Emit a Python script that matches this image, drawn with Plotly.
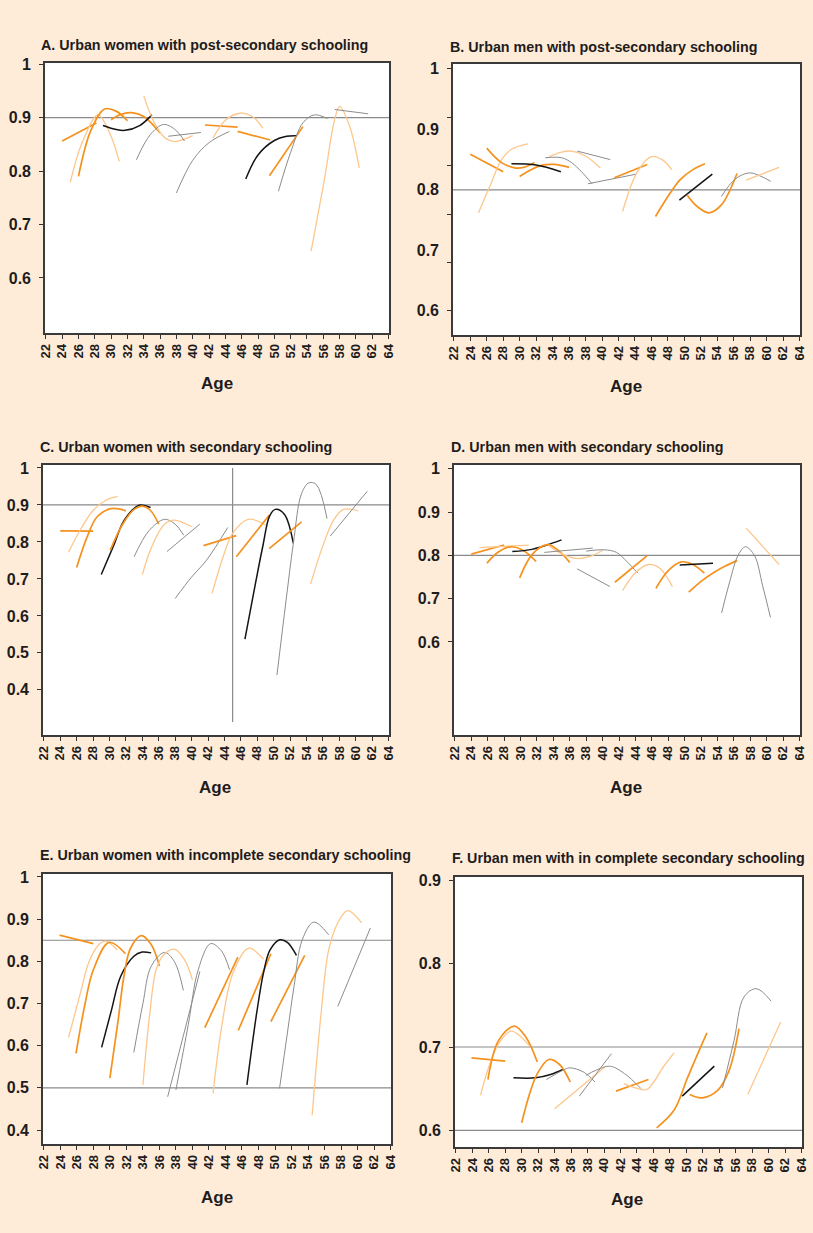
import plotly.graph_objects as go

# ---- cohort segments: colour key, ages, estimated proportions ----
# O = orange, L = light orange, K = black, G = grey
A_kinds = ["O", "L", "O", "O", "K", "L", "G", "G", "G", "O", "L", "O", "K", "O", "G", "L", "G"]
A_ages = [
    [24, 28.2], [25, 26.5, 28.4, 29.8, 31], [26, 27.5, 29.2, 30.6, 32],
    [30, 31.2, 32.5, 34, 36], [29, 30.5, 31.7, 33.5, 35], [34, 35.3, 36.6, 37.8, 40],
    [33.1, 34.8, 36.4, 37.8, 39], [37, 41], [38, 40, 42, 44.5], [41.5, 45.5],
    [42.5, 44, 45.8, 47.3, 48.6], [45.5, 49.5], [46.5, 48, 50, 51.5, 52.7], [49.4, 53.5],
    [50.5, 52, 53.5, 54.9, 56.5], [54.5, 56.2, 57.3, 58, 59.2, 60.4], [57.4, 61.5],
]
A_vals = [
    [0.856, 0.890], [0.779, 0.855, 0.905, 0.872, 0.818], [0.79, 0.875, 0.916, 0.912, 0.894],
    [0.896, 0.906, 0.909, 0.902, 0.871], [0.885, 0.878, 0.876, 0.885, 0.905], [0.94, 0.89, 0.862, 0.855, 0.866],
    [0.821, 0.868, 0.887, 0.878, 0.856], [0.865, 0.872], [0.759, 0.82, 0.853, 0.874], [0.886, 0.882],
    [0.862, 0.895, 0.908, 0.902, 0.88], [0.874, 0.858], [0.785, 0.83, 0.857, 0.865, 0.866], [0.791, 0.883],
    [0.762, 0.835, 0.89, 0.905, 0.898], [0.65, 0.79, 0.89, 0.921, 0.885, 0.806], [0.915, 0.907],
]

B_kinds = ["O", "L", "O", "O", "K", "L", "G", "G", "G", "O", "L", "O", "K", "O", "G", "L"]
B_ages = [
    [24, 28], [25, 26.5, 27.8, 29, 31], [26, 27.8, 29.5, 30.5, 31.8], [30, 31.2, 32.5, 34.2, 36],
    [29, 32, 35], [33.6, 35, 36.3, 38, 39.8], [33.1, 35.1, 36.3, 37.5, 38.8], [37, 41],
    [38.3, 44.2], [41.5, 45.5], [42.5, 44.3, 46, 47.3, 48.5], [46.5, 48.3, 49.5, 51, 52.5],
    [49.4, 53.4], [50.3, 51.6, 53, 54.5, 56.4], [54.5, 56.2, 57.9, 59.2, 60.5], [57.5, 61.5],
]
B_vals = [
    [0.859, 0.830], [0.762, 0.81, 0.85, 0.867, 0.876], [0.869, 0.845, 0.836, 0.837, 0.845],
    [0.822, 0.832, 0.84, 0.842, 0.837], [0.843, 0.841, 0.83], [0.855, 0.862, 0.864, 0.856, 0.836],
    [0.853, 0.853, 0.845, 0.83, 0.81], [0.864, 0.85], [0.81, 0.826], [0.82, 0.842],
    [0.764, 0.83, 0.855, 0.85, 0.833], [0.756, 0.795, 0.817, 0.833, 0.843], [0.783, 0.826],
    [0.792, 0.772, 0.762, 0.775, 0.827], [0.789, 0.818, 0.828, 0.823, 0.814], [0.816, 0.837],
]

C_kinds = ["O", "L", "O", "K", "O", "G", "L", "G", "G", "O", "L", "O", "K", "O", "G", "L", "G"]
C_ages = [
    [24, 28], [25, 26.5, 28, 29.5, 31], [26, 27.3, 28.5, 30.2, 32], [29, 30.5, 31.8, 33.6, 35],
    [30.1, 31.6, 33, 34, 35, 36], [33, 34.8, 36.7, 38, 39.05], [34, 35.2, 36.7, 37.9, 40],
    [37, 41], [38, 40, 41.8, 44.4], [41.45, 45.45], [42.5, 44, 45, 46.9, 49.1], [45.45, 49.45],
    [46.5, 47.8, 48.7, 49.5, 50.2, 51.3, 52.4], [49.45, 53.4],
    [50.4, 51.5, 52.4, 53.4, 54.3, 55.2, 56.5], [54.5, 56, 57.3, 58.5, 60.3], [56.9, 61.4],
]
C_vals = [
    [0.830, 0.829], [0.772, 0.835, 0.885, 0.912, 0.923], [0.731, 0.815, 0.868, 0.89, 0.884],
    [0.712, 0.79, 0.859, 0.899, 0.893], [0.778, 0.848, 0.888, 0.897, 0.885, 0.848],
    [0.76, 0.83, 0.861, 0.848, 0.818], [0.712, 0.79, 0.848, 0.859, 0.841], [0.774, 0.848],
    [0.647, 0.705, 0.75, 0.839], [0.79, 0.817], [0.661, 0.77, 0.823, 0.861, 0.845], [0.76, 0.872],
    [0.537, 0.69, 0.791, 0.87, 0.888, 0.875, 0.796], [0.782, 0.854],
    [0.44, 0.64, 0.796, 0.931, 0.96, 0.955, 0.863], [0.686, 0.79, 0.859, 0.888, 0.884], [0.816, 0.937],
]

D_kinds = ["O", "L", "O", "K", "O", "L", "G", "G", "G", "O", "L", "O", "K", "O", "G", "L"]
D_ages = [
    [24, 28], [25, 31], [25.9, 27.3, 28.8, 30.3, 31.9], [29, 31.4, 33.2, 35],
    [29.9, 31.45, 33.3, 34.7, 36], [33.5, 35.1, 36.8, 38.4, 40], [32.9, 38.8],
    [38, 40.2, 41.7, 43, 44.3], [36.9, 40.9], [41.5, 45.4], [42.45, 44, 45.6, 47, 48.5],
    [46.5, 48, 49.6, 51, 52.4], [49.4, 53.45], [50.5, 52, 53.6, 55, 56.4],
    [54.5, 55.5, 56.5, 57.4, 58.5, 59.5, 60.45], [57.5, 61.5],
]
D_vals = [
    [0.803, 0.824], [0.818, 0.824], [0.782, 0.808, 0.82, 0.812, 0.786], [0.809, 0.814, 0.824, 0.836],
    [0.748, 0.803, 0.825, 0.81, 0.784], [0.822, 0.803, 0.793, 0.797, 0.812], [0.807, 0.817],
    [0.81, 0.813, 0.807, 0.785, 0.759], [0.769, 0.728], [0.738, 0.799], [0.719, 0.76, 0.779, 0.77, 0.728],
    [0.724, 0.765, 0.785, 0.779, 0.759], [0.778, 0.782], [0.715, 0.74, 0.761, 0.776, 0.788],
    [0.667, 0.74, 0.8, 0.82, 0.8, 0.73, 0.657], [0.863, 0.779],
]

E_kinds = ["O", "L", "O", "K", "O", "G", "L", "G", "G", "O", "L", "O", "K", "O", "G", "L", "G"]
E_ages = [
    [23.9, 28], [25, 26.5, 27.5, 28.8, 29.5, 30.9], [25.9, 27, 28, 29.9, 31.9],
    [29, 30.2, 31.3, 32.9, 33.9, 35], [30, 31, 31.7, 32.5, 33.8, 35, 36],
    [32.9, 34, 35, 36.6, 37.8, 38.9], [34, 34.8, 35.6, 36.5, 37.8, 39, 40], [37, 40.9],
    [38, 39.5, 40.7, 42.2, 43.5, 44.5], [41.5, 45.5], [42.5, 43.5, 44.9, 46.8, 48.6], [45.55, 49.5],
    [46.6, 47.8, 48.6, 49.4, 50.6, 51.5, 52.6], [49.5, 53.6], [50.55, 51.5, 52.3, 53.3, 54.7, 56.5],
    [54.5, 55.6, 56.5, 57.6, 58.8, 60.5], [57.6, 61.55],
]
E_vals = [
    [0.862, 0.842], [0.62, 0.73, 0.8, 0.842, 0.848, 0.827], [0.582, 0.7, 0.78, 0.845, 0.818],
    [0.596, 0.685, 0.764, 0.812, 0.822, 0.82], [0.523, 0.66, 0.764, 0.831, 0.861, 0.84, 0.789],
    [0.584, 0.7, 0.788, 0.821, 0.8, 0.731], [0.507, 0.67, 0.78, 0.815, 0.829, 0.805, 0.756], [0.479, 0.776],
    [0.495, 0.65, 0.78, 0.842, 0.825, 0.78], [0.643, 0.81], [0.487, 0.64, 0.772, 0.831, 0.805], [0.636, 0.818],
    [0.507, 0.68, 0.772, 0.827, 0.851, 0.845, 0.814], [0.657, 0.814], [0.499, 0.63, 0.74, 0.851, 0.893, 0.863],
    [0.435, 0.68, 0.827, 0.891, 0.92, 0.891], [0.693, 0.879],
]

F_kinds = ["O", "L", "O", "K", "O", "G", "L", "G", "G", "O", "L", "O", "K", "O", "G", "L"]
F_ages = [
    [23.9, 28], [25, 26, 27.2, 28.7, 30.9], [25.9, 27.2, 29.1, 30.5, 31.9], [29, 31.7, 33.5, 35],
    [30, 31, 31.9, 33.3, 34.6, 35.9], [33, 35, 35.8, 37.5, 38.9], [34, 40.1], [37, 40.9],
    [37.8, 39, 40.7, 42.5, 44.5], [41.45, 45.4], [42.4, 43.8, 45.2, 47.2, 48.5],
    [46.4, 48.5, 50.1, 51.3, 52.5], [49.5, 53.4], [50.4, 51.9, 53.8, 55.2, 56.4],
    [54.4, 55.8, 57, 58.5, 60.3], [57.46, 61.46],
]
F_vals = [
    [0.687, 0.683], [0.642, 0.676, 0.704, 0.719, 0.702], [0.661, 0.708, 0.725, 0.712, 0.682],
    [0.663, 0.663, 0.667, 0.673], [0.609, 0.645, 0.668, 0.685, 0.679, 0.658],
    [0.661, 0.672, 0.675, 0.67, 0.658], [0.626, 0.676], [0.641, 0.692],
    [0.666, 0.672, 0.677, 0.668, 0.65], [0.647, 0.661], [0.656, 0.651, 0.649, 0.676, 0.693],
    [0.603, 0.624, 0.662, 0.69, 0.717], [0.641, 0.677], [0.643, 0.639, 0.648, 0.672, 0.722],
    [0.651, 0.708, 0.76, 0.77, 0.755], [0.643, 0.73],
]

titles = [
    "A. Urban women with post-secondary schooling",
    "B. Urban men with post-secondary schooling",
    "C. Urban women with secondary schooling",
    "D. Urban men with secondary schooling",
    "E. Urban women with incomplete secondary schooling",
    "F. Urban men with in complete secondary schooling",
]
age_ticks = list(range(22, 65, 2))
y_labels = [
    [1, 0.9, 0.8, 0.7, 0.6],
    [1, 0.9, 0.8, 0.7, 0.6],
    [1, 0.9, 0.8, 0.7, 0.6, 0.5, 0.4],
    [1, 0.9, 0.8, 0.7, 0.6],
    [1, 0.9, 0.8, 0.7, 0.6, 0.5, 0.4],
    [0.9, 0.8, 0.7, 0.6],
]
y_tickmarks = [
    [1, 0.9, 0.8, 0.7, 0.6],
    [1, 0.92, 0.84, 0.76, 0.68, 0.6],
    [1, 0.9, 0.8, 0.7, 0.6, 0.5, 0.4],
    [1, 0.9, 0.8, 0.7, 0.6],
    [1, 0.9, 0.8, 0.7, 0.6, 0.5, 0.4],
    [0.9, 0.8, 0.7, 0.6],
]
ref_lines = [[0.9], [0.8], [0.9], [0.8], [0.85, 0.5], [0.7, 0.6]]

# ---- layout geometry (pixels) ----
W, H = 813, 1233
boxes = [  # left, right, top, bottom of each plot area
    (45, 389, 63, 333), (453, 800, 64, 335),
    (43, 389, 465, 735), (454, 800, 465, 735),
    (43, 391, 874, 1144), (455, 802, 877, 1147),
]
y_ranges = [(0.497, 1.002), (0.56, 1.008), (0.278, 1.008), (0.385, 1.009), (0.367, 1.007), (0.58, 0.904)]
x_range = (21.9, 64.05)
title_pos = [(39, 45), (448, 47), (38, 447), (449, 447), (38, 855), (450, 858)]
age_pos = [(217, 383), (626, 387), (215, 787), (626, 787), (217, 1197), (627, 1199)]

FONT = "Liberation Sans, Arial, sans-serif"
INK = "#1e1c1c"
styles = {
    "O": dict(color="#F5921E", width=1.7),
    "L": dict(color="#FDC78C", width=1.3),
    "K": dict(color="#141414", width=1.5),
    "G": dict(color="#8C8C8C", width=1.0),
}

panels = [
    (A_kinds, A_ages, A_vals), (B_kinds, B_ages, B_vals), (C_kinds, C_ages, C_vals),
    (D_kinds, D_ages, D_vals), (E_kinds, E_ages, E_vals), (F_kinds, F_ages, F_vals),
]

fig = go.Figure()
shapes, annotations = [], []
layout_axes = {}

for i, (kinds, ages, vals) in enumerate(panels):
    sfx = "" if i == 0 else str(i + 1)
    xa, ya = "x" + sfx, "y" + sfx
    for kind, xs, ys in zip(kinds, ages, vals):
        st = styles[kind]
        fig.add_trace(go.Scatter(
            x=xs, y=ys, mode="lines", xaxis=xa, yaxis=ya,
            line=dict(color=st["color"], width=st["width"], shape="spline", smoothing=1.0),
            showlegend=False, hoverinfo="skip",
        ))
    l, r, t, b = boxes[i]
    layout_axes["xaxis" + sfx] = dict(
        domain=[l / W, r / W], anchor=ya, range=list(x_range), automargin=False,
        tickmode="array", tickvals=age_ticks, ticktext=[str(a) for a in age_ticks],
        tickangle=-90, ticks="outside", ticklen=4, tickcolor="#333", tickwidth=1,
        tickfont=dict(family=FONT, size=13, color=INK, weight=700),
        showgrid=False, zeroline=False,
        showline=True, mirror=True, linecolor="#3a3a3a", linewidth=1.6,
    )
    layout_axes["yaxis" + sfx] = dict(
        domain=[1 - b / H, 1 - t / H], anchor=xa, range=list(y_ranges[i]), automargin=False,
        tickmode="array", tickvals=y_labels[i], ticktext=[f"{v:g}" for v in y_labels[i]],
        ticks="", tickfont=dict(family=FONT, size=16, color=INK, weight=700), ticklabelstandoff=9,
        minor=dict(tickmode="array", tickvals=y_tickmarks[i], ticks="outside",
                   ticklen=4, tickcolor="#333", tickwidth=1, showgrid=False),
        showgrid=False, zeroline=False,
        showline=True, mirror=True, linecolor="#3a3a3a", linewidth=1.6,
    )
    for v in ref_lines[i]:
        shapes.append(dict(type="line", xref=xa + " domain", yref=ya, x0=0, x1=1, y0=v, y1=v,
                           line=dict(color="#8a8a8a", width=1.2), layer="below"))
    tx, ty = title_pos[i]
    annotations.append(dict(text=titles[i], xref="paper", yref="paper", x=tx / W, y=1 - ty / H,
                            xanchor="left", yanchor="middle", showarrow=False,
                            font=dict(family=FONT, size=14.3, color=INK, weight=700)))
    axp, ayp = age_pos[i]
    annotations.append(dict(text="Age", xref="paper", yref="paper", x=axp / W, y=1 - ayp / H,
                            xanchor="center", yanchor="middle", showarrow=False,
                            font=dict(family=FONT, size=17, color=INK, weight=700)))

# vertical marker in panel C
shapes.append(dict(type="line", xref="x3", yref="y3", x0=45, x1=45, y0=0.313, y1=1.0,
                   line=dict(color="#8a8a8a", width=1.2), layer="below"))

fig.update_layout(
    width=W, height=H, margin=dict(l=0, r=0, t=0, b=0, autoexpand=False),
    paper_bgcolor="#FEECD9", plot_bgcolor="#FFFFFF",
    shapes=shapes, annotations=annotations, showlegend=False,
    **layout_axes,
)

# the page body keeps no default margin so the figure sits at the window origin
fig.write_html("out.html", post_script="document.body.style.margin='0';")
